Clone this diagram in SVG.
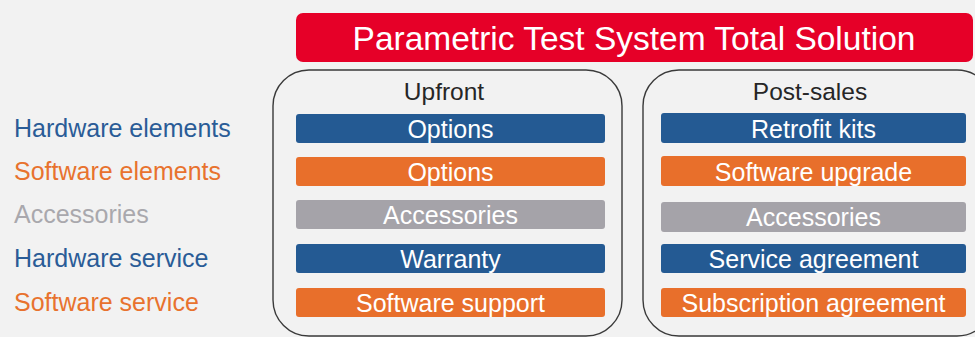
<svg xmlns="http://www.w3.org/2000/svg" width="975" height="337" viewBox="0 0 975 337">
<style>
text{font-family:"Liberation Sans",Arial,sans-serif;}
.bar{stroke:none;}
.blue{fill:#245A93;}
.orange{fill:#E86F2B;}
.grey{fill:#A5A3A9;}
.bt{fill:#FFFFFF;font-size:25px;text-anchor:middle;}
.col{fill:none;stroke:#3A3A3A;stroke-width:1.4;}
.hd{fill:#262626;font-size:24.5px;text-anchor:middle;}
.lb{font-size:25px;}
.lblue{fill:#2A5C97;}
.lorange{fill:#E8722E;}
.lgrey{fill:#A9A8AD;}
</style>
<rect x="0" y="0" width="975" height="337" fill="#F2F2F2"/>
<g id="title">
<rect x="296" y="13" width="677" height="49" rx="7" fill="#E60028"/>
<text x="634" y="50" fill="#FFFFFF" font-size="33.5" text-anchor="middle">Parametric Test System Total Solution</text>
</g>
<g id="labels">
<text class="lb lblue" x="14" y="137">Hardware elements</text>
<text class="lb lorange" x="14" y="180">Software elements</text>
<text class="lb lgrey" x="14" y="223">Accessories</text>
<text class="lb lblue" x="14" y="267">Hardware service</text>
<text class="lb lorange" x="14" y="311">Software service</text>
</g>
<g id="upfront">
<rect class="col" x="273" y="70" width="349" height="266" rx="36"/>
<text class="hd" x="444" y="100">Upfront</text>
<g id="up-options-hw"><rect class="bar blue" x="296" y="114" width="309" height="29" rx="3"/><text class="bt" x="450.5" y="137.5">Options</text></g>
<g id="up-options-sw"><rect class="bar orange" x="296" y="157" width="309" height="29" rx="3"/><text class="bt" x="450.5" y="180.5">Options</text></g>
<g id="up-accessories"><rect class="bar grey" x="296" y="200" width="309" height="29" rx="3"/><text class="bt" x="450.5" y="223.5">Accessories</text></g>
<g id="up-warranty"><rect class="bar blue" x="296" y="244" width="309" height="29" rx="3"/><text class="bt" x="450.5" y="267.5">Warranty</text></g>
<g id="up-swsupport"><rect class="bar orange" x="296" y="288" width="309" height="29" rx="3"/><text class="bt" x="450.5" y="311.5">Software support</text></g>
</g>
<g id="postsales">
<rect class="col" x="643" y="70" width="350" height="266" rx="36"/>
<text class="hd" x="810" y="100">Post-sales</text>
<g id="ps-retrofit"><rect class="bar blue" x="661" y="113" width="305" height="30" rx="3"/><text class="bt" x="813.5" y="137.5">Retrofit kits</text></g>
<g id="ps-swupgrade"><rect class="bar orange" x="661" y="156" width="305" height="30" rx="3"/><text class="bt" x="813.5" y="180.5">Software upgrade</text></g>
<g id="ps-accessories"><rect class="bar grey" x="661" y="202" width="305" height="30" rx="3"/><text class="bt" x="813.5" y="225.5">Accessories</text></g>
<g id="ps-service"><rect class="bar blue" x="661" y="244" width="305" height="29" rx="3"/><text class="bt" x="813.5" y="267.5">Service agreement</text></g>
<g id="ps-subscription"><rect class="bar orange" x="661" y="288" width="305" height="29" rx="3"/><text class="bt" x="813.5" y="311.5">Subscription agreement</text></g>
</g>
<g id="connectors"></g>
</svg>
